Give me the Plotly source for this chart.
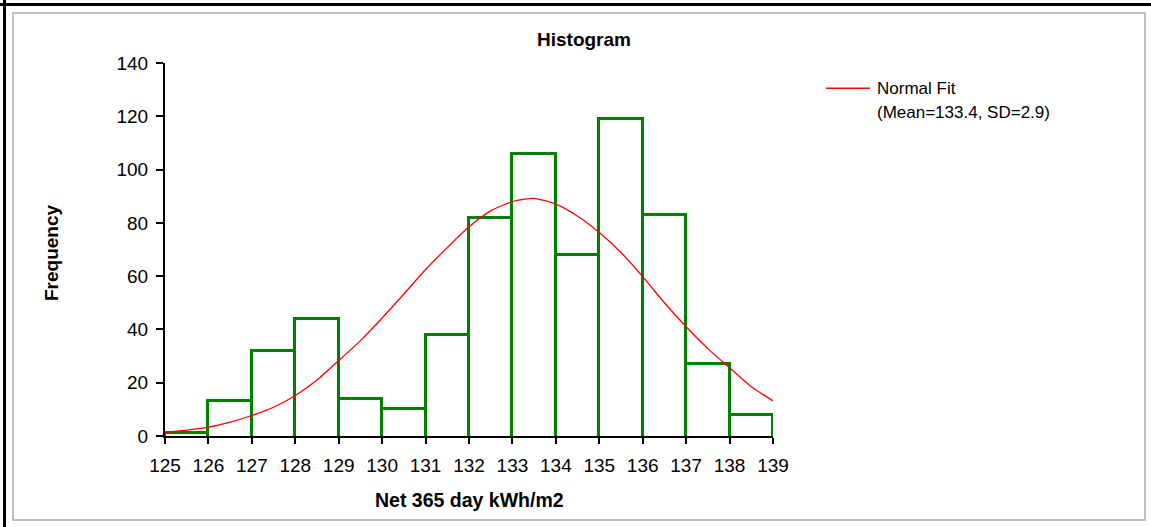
import plotly.graph_objects as go

# ---- data ----
bin_left = [125, 126, 127, 128, 129, 130, 131, 132, 133, 134, 135, 136, 137, 138]
frequency = [1, 13, 32, 44, 14, 10, 38, 82, 106, 68, 119, 83, 27, 8]

fit_x = [125, 125.5, 126, 126.5, 127, 127.5, 128, 128.5, 129, 129.5, 130, 130.5,
         131, 131.5, 132, 132.5, 133, 133.5, 134, 134.5, 135, 135.5, 136, 136.5,
         137, 137.5, 138, 138.5, 139]
fit_y = [1.3, 2.2, 3.3, 5.2, 7.7, 10.8, 15.2, 21.0, 28.3, 35.8, 44.3, 53.3,
         62.5, 70.7, 78.5, 84.5, 88.0, 89.2, 87.0, 82.5, 76.4, 68.9, 59.8, 50.0,
         41.0, 32.8, 25.6, 18.5, 13.2]

x_ticks = list(range(125, 140))
y_ticks = [0, 20, 40, 60, 80, 100, 120, 140]

title_text = "Histogram"
x_title = "Net 365 day kWh/m2"
y_title = "Frequency"
legend_line1 = "Normal Fit"
legend_line2 = "(Mean=133.4, SD=2.9)"

# ---- layout geometry (pixels) ----
W, H = 1151, 527
L, R, T, B = 165, 773, 63, 436


def px(xp):
    return (xp - L) / (R - L)


def py(yp):
    return (B - yp) / (B - T)


FONT = "Arial, Liberation Sans, sans-serif"
GREEN = "#008000"
BAR_BASE_OFFSET = -1.5  # pushes the bars' bottom outline below the clipped axis

fig = go.Figure()
fig.add_trace(go.Bar(
    x=[b + 0.5 for b in bin_left],
    y=[f - BAR_BASE_OFFSET for f in frequency],
    base=BAR_BASE_OFFSET,
    width=1,
    marker=dict(color="rgba(255,255,255,0)", line=dict(color=GREEN, width=3)),
    showlegend=False,
    customdata=frequency,
    hovertemplate="%{x}: %{customdata}<extra></extra>",
))
fig.add_trace(go.Scatter(
    x=fit_x, y=fit_y, mode="lines",
    line=dict(color="#FF0000", width=1.3, shape="spline", smoothing=0.6),
    showlegend=False,
))

shapes = [
    # inner grey frame
    dict(type="rect", xref="paper", yref="paper",
         x0=px(13), x1=px(1145), y0=py(520), y1=py(13),
         line=dict(color="#C0C0C0", width=2), layer="below"),
    # outer black lines (top/left)
    dict(type="line", xref="paper", yref="paper",
         x0=px(0), x1=px(W), y0=py(4.5), y1=py(4.5),
         line=dict(color="#000000", width=3)),
    dict(type="line", xref="paper", yref="paper",
         x0=px(4.5), x1=px(4.5), y0=py(0), y1=py(H),
         line=dict(color="#000000", width=3)),
    # legend swatch
    dict(type="line", xref="paper", yref="paper",
         x0=px(826), x1=px(870), y0=py(88.3), y1=py(88.3),
         line=dict(color="#FF0000", width=1.5)),
]

annotations = [
    dict(text="<b>" + title_text + "</b>", xref="paper", yref="paper",
         x=px(584), y=py(40), xanchor="center", yanchor="middle",
         showarrow=False, font=dict(size=19, color="black", family=FONT)),
    dict(text="<b>" + y_title + "</b>", xref="paper", yref="paper",
         x=px(51), y=py(253), xanchor="center", yanchor="middle", textangle=-90,
         showarrow=False, font=dict(size=19, color="black", family=FONT)),
    dict(text="<b>" + x_title + "</b>", xref="paper", yref="paper",
         x=px(469), y=py(500), xanchor="center", yanchor="middle",
         showarrow=False, font=dict(size=19.5, color="black", family=FONT)),
    dict(text=legend_line1, xref="paper", yref="paper",
         x=px(875), y=py(88), xanchor="left", yanchor="middle",
         showarrow=False, font=dict(size=17, color="black", family=FONT)),
    dict(text=legend_line2, xref="paper", yref="paper",
         x=px(875), y=py(112), xanchor="left", yanchor="middle",
         showarrow=False, font=dict(size=17, color="black", family=FONT)),
]

fig.update_layout(
    width=W, height=H,
    margin=dict(l=L, r=W - R, t=T, b=H - B, pad=0),
    paper_bgcolor="white", plot_bgcolor="white",
    font=dict(family=FONT, color="black", size=18),
    shapes=shapes, annotations=annotations,
    bargap=0,
    showlegend=False,
)
fig.update_xaxes(
    range=[125, 139], tickvals=x_ticks, ticktext=[str(v) for v in x_ticks],
    showgrid=False, zeroline=False, layer="above traces",
    showline=True, linecolor="black", linewidth=2,
    ticks="outside", ticklen=6, tickwidth=1.5, tickcolor="black",
    ticklabelstandoff=5,
    tickfont=dict(size=19, family=FONT, color="black"),
)
fig.update_yaxes(
    range=[0, 140], tickvals=y_ticks,
    showgrid=False, zeroline=False, layer="above traces",
    showline=True, linecolor="black", linewidth=2,
    ticks="outside", ticklen=7, tickwidth=1.5, tickcolor="black",
    ticklabelstandoff=4,
    tickfont=dict(size=19, family=FONT, color="black"),
)

fig.write_html("out.html")
